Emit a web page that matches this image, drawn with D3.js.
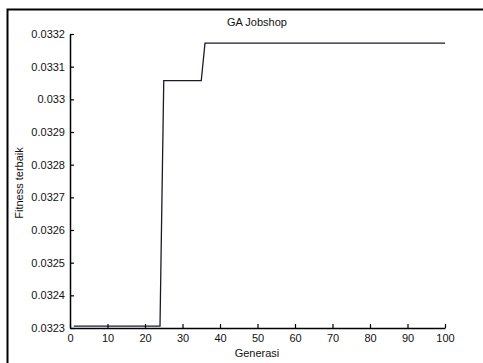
<!DOCTYPE html>
<html>
<head>
<meta charset="utf-8">
<script src="https://cdn.jsdelivr.net/npm/d3@7"></script>
<style>
  body { margin:0; background:#fff; }
  text { font-family: "Liberation Sans", Arial, sans-serif; }
</style>
</head>
<body>
<div id="chart"></div>
<script>
// best fitness per generation (only the points where the line bends)
var generations = [1, 24, 25, 35, 36, 100]
var fitness = [0.032306, 0.032306, 0.033057, 0.033057, 0.033172, 0.033172]
var xTicks = [0, 10, 20, 30, 40, 50, 60, 70, 80, 90, 100]
var yTicks = [0.0323, 0.0324, 0.0325, 0.0326, 0.0327, 0.0328, 0.0329, 0.033, 0.0331, 0.0332]

var W = 483, H = 363
var margin = { left:70, right:38, top:34, bottom:35 }

var svg = d3.select("#chart").append("svg")
    .attr("width", W)
    .attr("height", H)

// figure frame (right and bottom edges fall outside the picture)
svg.append("rect")
    .attr("x", 7.5).attr("y", 9.5)
    .attr("width", W + 10).attr("height", H + 10)
    .attr("fill", "#fff")
    .attr("stroke", "#000")
    .attr("stroke-width", 2)

var x = d3.scaleLinear()
    .domain([0, 100])
    .range([margin.left, W - margin.right])

var y = d3.scaleLinear()
    .domain([0.0323, 0.0332])
    .range([H - margin.bottom, margin.top])

var xAxis = d3.axisBottom(x)
    .tickValues(xTicks)
    .tickSizeInner(-4)
    .tickSizeOuter(0)
    .tickPadding(6)
    .tickFormat(d3.format("d"))

var yAxis = d3.axisLeft(y)
    .tickValues(yTicks)
    .tickSizeInner(-4)
    .tickSizeOuter(0)
    .tickPadding(5)
    .tickFormat(function(d){ return String(+d.toFixed(4)) })

var gx = svg.append("g")
    .attr("transform", "translate(0," + (H - margin.bottom) + ")")
    .call(xAxis)

var gy = svg.append("g")
    .attr("transform", "translate(" + margin.left + ",0)")
    .call(yAxis)

svg.selectAll(".domain").attr("stroke", "#000").attr("stroke-width", 1.5)
svg.selectAll(".tick line").attr("stroke", "#000").attr("stroke-width", 1.2)
svg.selectAll(".tick text")
    .attr("fill", "#111")
    .attr("font-size", "11px")
    .attr("font-family", "'Liberation Sans', Arial, sans-serif")

var line = d3.line()
    .x(function(d){ return x(d[0]) })
    .y(function(d){ return y(d[1]) })

svg.append("path")
    .datum(generations.map(function(g, i){ return [g, fitness[i]] }))
    .attr("fill", "none")
    .attr("stroke", "#1a1a2e")
    .attr("stroke-width", 1.3)
    .attr("d", line)

// title and labels
svg.append("text")
    .attr("x", 257).attr("y", 26)
    .attr("text-anchor", "middle")
    .attr("font-size", "11px")
    .attr("fill", "#111")
    .text("GA Jobshop")

svg.append("text")
    .attr("x", 257).attr("y", 357)
    .attr("text-anchor", "middle")
    .attr("font-size", "11px")
    .attr("fill", "#111")
    .text("Generasi")

svg.append("text")
    .attr("transform", "translate(23,183) rotate(-90)")
    .attr("text-anchor", "middle")
    .attr("font-size", "11px")
    .attr("fill", "#111")
    .text("Fitness terbaik")
</script>
</body>
</html>
